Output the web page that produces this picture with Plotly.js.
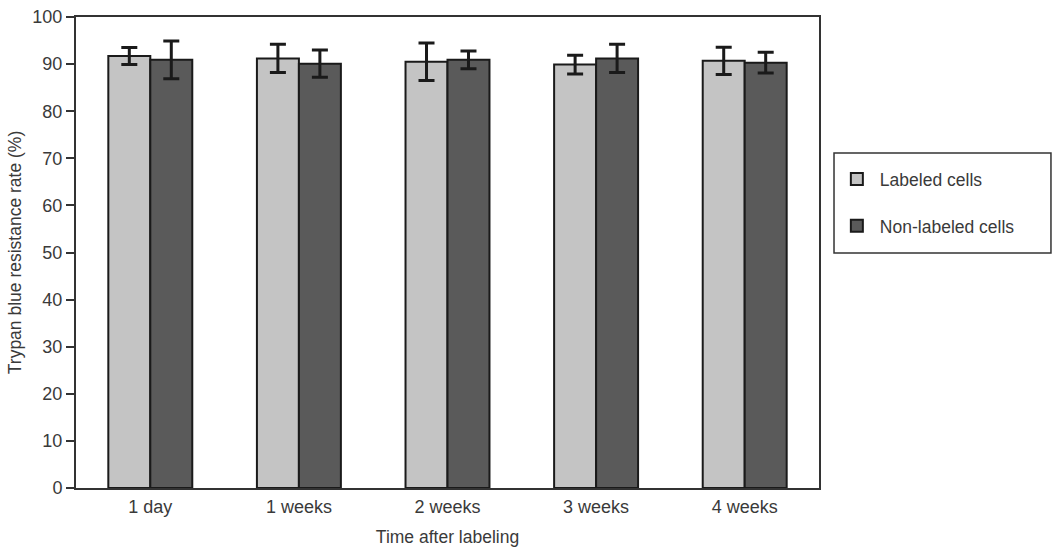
<!DOCTYPE html>
<html>
<head>
<meta charset="utf-8">
<script src="https://cdn.plot.ly/plotly-3.0.1.min.js"></script>
<style>html,body{margin:0;padding:0;background:#fff;}#chart{width:1063px;height:558px;}</style>
</head>
<body>
<div id="chart"></div>
<script>
const categories = ["1 day", "1 weeks", "2 weeks", "3 weeks", "4 weeks"];
const labeledValues = [91.7, 91.2, 90.5, 89.9, 90.7];
const labeledErrors = [1.8, 3.0, 4.0, 2.0, 2.9];
const nonLabeledValues = [90.9, 90.1, 90.9, 91.2, 90.3];
const nonLabeledErrors = [4.0, 2.9, 1.9, 3.0, 2.2];
const yTicks = [0, 10, 20, 30, 40, 50, 60, 70, 80, 90, 100];

const font = "Liberation Sans, Arial, Helvetica, sans-serif";
const txt = "#3a3a3a";
const errStyle = {type: "data", visible: true, color: "#1a1a1a", thickness: 3, width: 8};

const traces = [
  {
    type: "bar", name: "Labeled cells", x: categories, y: labeledValues, legendgroup: "a",
    marker: {color: "#c4c4c4", line: {color: "#1a1a1a", width: 2}},
    error_y: Object.assign({array: labeledErrors}, errStyle)
  },
  {
    type: "bar", name: "Non-labeled cells", x: categories, y: nonLabeledValues, legendgroup: "b",
    marker: {color: "#5a5a5a", line: {color: "#1a1a1a", width: 2}},
    error_y: Object.assign({array: nonLabeledErrors}, errStyle)
  }
];

const layout = {
  width: 1063, height: 558,
  margin: {l: 76, r: 244, t: 17, b: 70},
  paper_bgcolor: "#fff", plot_bgcolor: "#fff",
  font: {family: font, size: 18, color: txt},
  barmode: "group", bargap: 0.435, bargroupgap: 0,
  showlegend: true,
  legend: {
    x: 1.02, xanchor: "left", y: 0.694, yanchor: "top",
    borderwidth: 0, bgcolor: "rgba(0,0,0,0)",
    font: {family: font, size: 17.5, color: txt},
    traceorder: "grouped", tracegroupgap: 21, itemwidth: 36
  },
  shapes: [{
    type: "rect", xref: "paper", yref: "paper",
    x0: 1.0202, x1: 1.3122, y0: 0.4989, y1: 0.7113,
    line: {color: "#333", width: 1.5}, fillcolor: "rgba(0,0,0,0)", layer: "below"
  }],
  xaxis: {
    type: "category", range: [-0.5, 4.5],
    showline: true, linecolor: "#333", linewidth: 2, mirror: true,
    ticks: "outside", ticklen: 1, tickcolor: "rgba(0,0,0,0)",
    showgrid: false, zeroline: false,
    tickfont: {family: font, size: 18, color: txt},
    title: {text: "Time after labeling", font: {family: font, size: 17.5, color: txt}, standoff: 15}
  },
  yaxis: {
    range: [0, 100], tickvals: yTicks, ticktext: yTicks.map(String),
    showline: true, linecolor: "#333", linewidth: 2, mirror: true,
    ticks: "outside", ticklen: 8, tickwidth: 2, tickcolor: "#333",
    showgrid: false, zeroline: false,
    tickfont: {family: font, size: 18, color: txt},
    title: {text: "Trypan blue resistance rate (%)", font: {family: font, size: 17.5, color: txt}, standoff: 6}
  }
};

Plotly.newPlot("chart", traces, layout, {displayModeBar: false, staticPlot: true});
</script>
</body>
</html>
